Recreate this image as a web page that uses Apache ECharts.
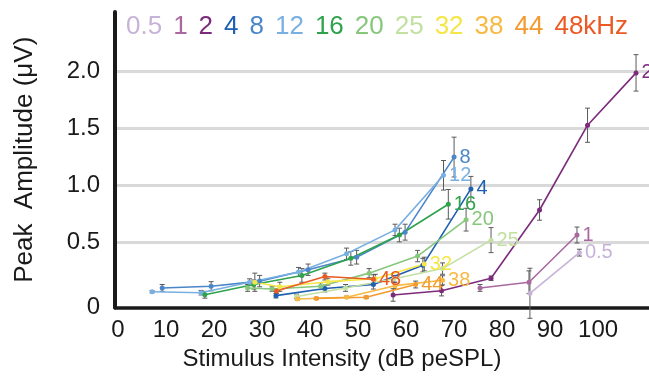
<!DOCTYPE html>
<html>
<head>
<meta charset="utf-8">
<script src="https://cdn.jsdelivr.net/npm/echarts@6/dist/echarts.min.js"></script>
<style>
  html, body { margin: 0; padding: 0; background: #ffffff; }
  #chart { width: 649px; height: 377px; }
</style>
</head>
<body>
<div id="chart"></div>
<script>
// Stimulus frequencies (kHz) and their colours
const freqNames  = ['0.5', '1', '2', '4', '8', '12', '16', '20', '25', '32', '38', '44', '48'];
const freqColors = ['#c7b3d8', '#a9689f', '#7c2a7c', '#1f5fb0', '#4a86c8', '#79b0e2', '#2fa24c',
                    '#86c77c', '#c2e0a1', '#f4e646', '#f8b943', '#f39a2e', '#ec5a24'];

// Stimulus intensity (dB peSPL), peak amplitude (µV) and error (µV) per frequency
const level_0_5 = [85.8, 96.1];
const amp_0_5   = [0.053, 0.41];
const err_0_5   = [0.22, 0.03];

const level_1 = [75.4, 85.6, 95.6];
const amp_1   = [0.10, 0.15, 0.565];
const err_1   = [0.03, 0.10, 0.07];

const level_2 = [57.3, 67.4, 77.7, 87.8, 97.8, 107.9];
const amp_2   = [0.038, 0.075, 0.185, 0.785, 1.53, 1.99];
const err_2   = [0.055, 0.045, 0.02, 0.09, 0.15, 0.16];

const level_4 = [32.9, 43.1, 53.2, 63.5, 73.5];
const amp_4   = [0.032, 0.095, 0.13, 0.30, 0.97];
const err_4   = [0.02, 0.03, 0.04, 0.06, 0.11];

const level_8 = [9.2, 19.4, 29.5, 39.6, 49.7, 59.8, 70.0];
const amp_8   = [0.10, 0.115, 0.16, 0.26, 0.37, 0.59, 1.25];
const err_8   = [0.03, 0.04, 0.05, 0.05, 0.06, 0.07, 0.175];

const level_12 = [7.1, 17.3, 27.4, 37.6, 47.6, 57.7, 67.8];
const amp_12   = [0.067, 0.058, 0.15, 0.24, 0.40, 0.61, 1.09];
const err_12   = [0.01, 0.02, 0.03, 0.04, 0.05, 0.05, 0.13];

const level_16 = [18.1, 28.3, 38.3, 48.5, 58.6, 68.8];
const amp_16   = [0.04, 0.13, 0.21, 0.36, 0.565, 0.835];
const err_16   = [0.03, 0.04, 0.06, 0.06, 0.06, 0.13];

const level_20 = [27.0, 32.1, 42.2, 52.3, 62.4, 72.5];
const amp_20   = [0.10, 0.09, 0.115, 0.23, 0.38, 0.70];
const err_20   = [0.03, 0.02, 0.03, 0.04, 0.05, 0.10];

const level_25 = [37.2, 47.4, 57.5, 67.6, 77.7];
const amp_25   = [0.025, 0.10, 0.18, 0.27, 0.52];
const err_25   = [0.02, 0.03, 0.03, 0.05, 0.11];

const level_32 = [28.5, 33.7, 43.7, 53.6, 63.8];
const amp_32   = [0.15, 0.11, 0.155, 0.18, 0.31];
const err_32   = [0.08, 0.04, 0.03, 0.04, 0.06];

const level_38 = [37.4, 47.6, 57.7, 67.6];
const amp_38   = [0.003, 0.018, 0.12, 0.167];
const err_38   = [0.01, 0.01, 0.03, 0.04];

const level_44 = [41.3, 51.7, 62.0];
const amp_44   = [0.008, 0.018, 0.13];
const err_44   = [0.01, 0.01, 0.03];

const level_48 = [33.0, 43.1, 53.2];
const amp_48   = [0.073, 0.20, 0.176];
const err_48   = [0.02, 0.03, 0.04];

// Axis tick labels
const xTickValues = [0, 10, 20, 30, 40, 50, 60, 70, 80, 90, 100];
const yGridValues = [0.5, 1.0, 1.5, 2.0];

const seriesData = [
  [level_0_5, amp_0_5, err_0_5], [level_1, amp_1, err_1], [level_2, amp_2, err_2],
  [level_4, amp_4, err_4], [level_8, amp_8, err_8], [level_12, amp_12, err_12],
  [level_16, amp_16, err_16], [level_20, amp_20, err_20], [level_25, amp_25, err_25],
  [level_32, amp_32, err_32], [level_38, amp_38, err_38], [level_44, amp_44, err_44],
  [level_48, amp_48, err_48]
];

const FONT = "'Liberation Sans', Arial, Helvetica, sans-serif";
const X_MIN = -0.625, X_MAX = 110.6;
const Y_MIN = -0.072, Y_MAX = 2.525;

// Vertical error bar with small caps
function renderErrorBar(params, api) {
  const x = api.value(0), y = api.value(1), e = api.value(2);
  const top = api.coord([x, y + e]);
  const bot = api.coord([x, y - e]);
  const cap = 2.5;
  const style = { stroke: '#5a5a5a', lineWidth: 1 };
  return {
    type: 'group',
    children: [
      { type: 'line', shape: { x1: top[0], y1: top[1], x2: bot[0], y2: bot[1] }, style: style },
      { type: 'line', shape: { x1: top[0] - cap, y1: top[1], x2: top[0] + cap, y2: top[1] }, style: style },
      { type: 'line', shape: { x1: bot[0] - cap, y1: bot[1], x2: bot[0] + cap, y2: bot[1] }, style: style }
    ]
  };
}

const series = [];
seriesData.forEach(function (d, k) {
  const xs = d[0], ys = d[1], es = d[2];
  const name = freqNames[k];
  const color = freqColors[k];
  series.push({
    name: name + ' error',
    type: 'custom',
    renderItem: renderErrorBar,
    encode: { x: 0, y: 1 },
    clip: false,
    z: 1,
    silent: true,
    data: xs.map(function (x, i) { return [x, ys[i], es[i]]; })
  });
  series.push({
    name: name,
    type: 'line',
    z: 2,
    symbol: 'circle',
    symbolSize: 5,
    showSymbol: true,
    clip: false,
    lineStyle: { color: color, width: 1.6 },
    itemStyle: { color: color },
    label: {
      show: false,
      position: 'right',
      distance: 3,
      formatter: name,
      color: color,
      fontFamily: FONT,
      fontSize: 20
    },
    data: xs.map(function (x, i) {
      if (i === xs.length - 1) {
        return { value: [x, ys[i]], label: { show: true } };
      }
      return [x, ys[i]];
    })
  });
});

const chart = echarts.init(document.getElementById('chart'), null, { renderer: 'canvas' });
chart.setOption({
  animation: false,
  backgroundColor: '#ffffff',
  textStyle: { fontFamily: FONT },
  legend: {
    data: freqNames.map(function (n, i) {
      return { name: n, icon: 'none', textStyle: { color: freqColors[i] } };
    }),
    formatter: function (n) { return n === '48' ? '48kHz' : n; },
    left: 121,
    top: 14,
    padding: 0,
    itemWidth: 0,
    itemHeight: 0,
    itemGap: 6,
    selectedMode: false,
    textStyle: { fontFamily: FONT, fontSize: 26 }
  },
  grid: { left: 115, right: 0, top: 12, bottom: 69.5, containLabel: false },
  xAxis: {
    type: 'value',
    min: X_MIN,
    max: X_MAX,
    name: 'Stimulus Intensity (dB peSPL)',
    nameLocation: 'middle',
    nameGap: 37,
    nameTextStyle: { fontFamily: FONT, fontSize: 24, color: '#1a1a1a', padding: [0, 80, 0, 0] },
    axisLine: { show: true, onZero: false, lineStyle: { color: '#1a1a1a', width: 3.5 } },
    axisTick: { show: false, customValues: xTickValues },
    splitLine: { show: false },
    axisLabel: {
      customValues: xTickValues,
      margin: 11,
      fontFamily: FONT,
      fontSize: 24,
      color: '#1a1a1a'
    }
  },
  yAxis: {
    type: 'value',
    min: Y_MIN,
    max: Y_MAX,
    name: 'Peak  Amplitude (\u03bcV)',
    nameLocation: 'middle',
    nameGap: 77,
    nameTextStyle: { fontFamily: FONT, fontSize: 26, color: '#1a1a1a' },
    axisLine: { show: true, onZero: false, lineStyle: { color: '#1a1a1a', width: 4 } },
    axisTick: { show: false, customValues: yGridValues },
    splitLine: { show: true, lineStyle: { color: '#d9d9d9', width: 3 } },
    axisLabel: {
      customValues: [Y_MIN].concat(yGridValues),
      formatter: function (v) { return v < 0.25 ? '0' : v.toFixed(1); },
      margin: 15,
      fontFamily: FONT,
      fontSize: 24,
      color: '#1a1a1a'
    }
  },
  series: series
});
</script>
</body>
</html>
